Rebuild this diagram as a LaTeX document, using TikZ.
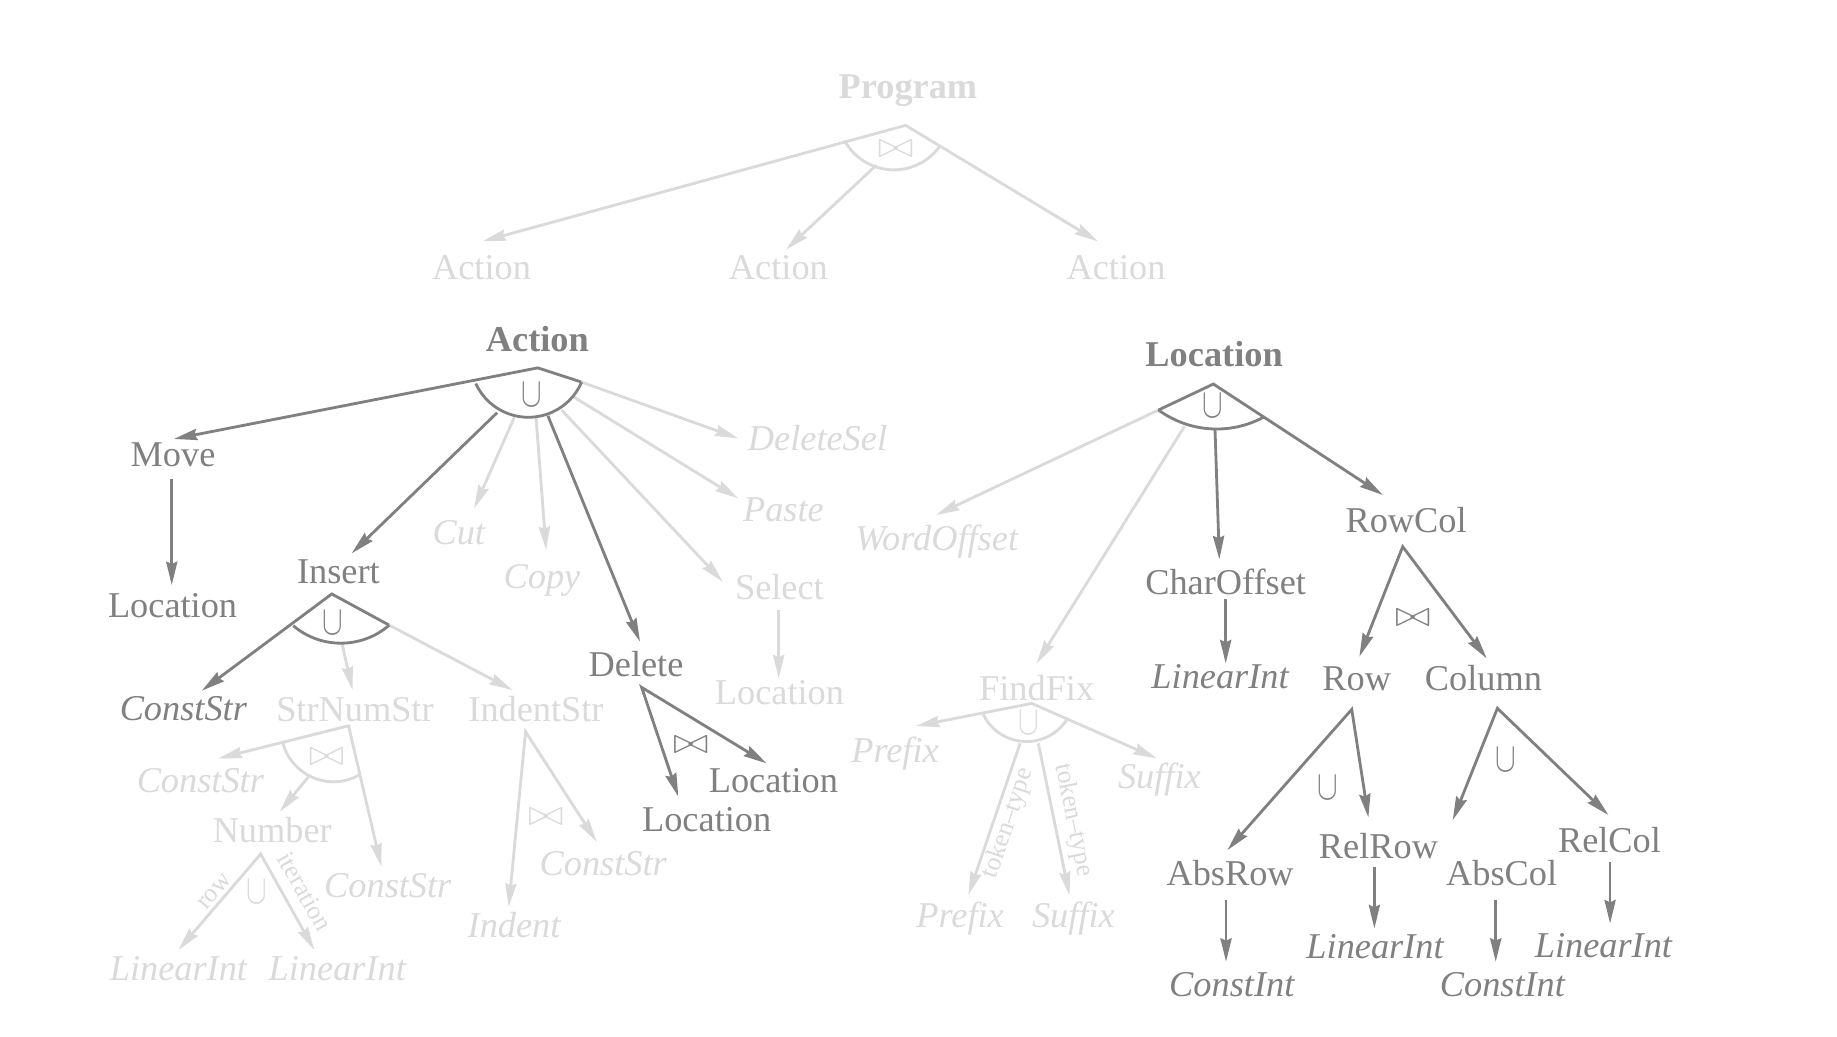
\RequirePackage{fix-cm}
\documentclass[tikz,border=0pt]{standalone}
\usepackage{fontspec}
\setmainfont{Liberation Serif}
\usetikzlibrary{arrows.meta}
\definecolor{dk}{RGB}{128,128,128}
\definecolor{lt}{RGB}{218,218,218}
\tikzset{
  myhead/.tip={Stealth[length=20pt,width=9.5pt,inset=2pt]},
  txt/.style={inner sep=0pt, outer sep=0pt, text height=20.5pt, text depth=0pt, font=\fontsize{31}{37}\selectfont},
  dkn/.style={txt, text=dk},
  ltn/.style={txt, text=lt},
  dki/.style={dkn, font=\fontsize{31}{37}\selectfont\itshape},
  lti/.style={ltn, font=\fontsize{31}{37}\selectfont\itshape},
  dkb/.style={dkn, font=\fontsize{31}{37}\selectfont\bfseries},
  ltb/.style={ltn, font=\fontsize{31}{37}\selectfont\bfseries},
  sml/.style={inner sep=0pt, text=lt, font=\fontsize{22}{26}\selectfont},
  symd/.style={inner sep=0pt, text=dk, font=\fontsize{31}{37}\selectfont},
  syml/.style={inner sep=0pt, text=lt, font=\fontsize{31}{37}\selectfont},
  ed/.style={draw=dk, line width=2.4pt, line join=miter},
  el/.style={draw=lt, line width=2.4pt, line join=miter},
}
\newcommand{\mycup}{\scalebox{0.85}[1.15]{$\cup$}}
\newcommand{\mybow}{\scalebox{1.2}[1]{$\bowtie$}}
\begin{document}
\begin{tikzpicture}[x=1pt,y=-1pt]
\fill[white] (0,0) rectangle (1568,885);
% ================= Program =================
\node[ltb] (prog) at (775,74) {Program};
\coordinate (pA) at (773,107);
\coordinate (pL) at (412,206);
\coordinate (pR) at (937,206);
\coordinate (pMs) at (748,141);
\coordinate (pMt) at (671,213);
\coordinate (pC) at (763,97);
\draw[el, myhead-myhead] (pL) -- (pA) -- (pR);
\draw[el] (pC) ++(151.5:48) arc[start angle=151.5, end angle=35.7, radius=48];
\draw[el, -myhead] (pMs) -- (pMt);
\node[syml] (pSym) at (764.5,127.5) {\mybow};
\node[ltn] (act1) at (411,228) {Action};
\node[ltn] (act2) at (664.4,228) {Action};
\node[ltn] (act3) at (952.6,228.5) {Action};
% ================= Action =================
\node[dkb] (act) at (458.7,290) {Action};
\coordinate (aA) at (459,314);
\coordinate (aR) at (496,326);
\coordinate (aC) at (451,306.8);
\node[dkn] (move) at (147.7,388) {Move};
\coordinate (moveT) at (148.4,374.7);
\node[dkn] (moveLoc) at (147.3,516.4) {Location};
\coordinate (mlS) at (146.6,409);
\coordinate (mlT) at (146.6,499.4);
\node[dkn] (ins) at (288.8,488) {Insert};
\coordinate (insS) at (424.3,352.3);
\coordinate (insT) at (300.2,472.3);
\node[lti] (cut) at (391.6,454.5) {Cut};
\coordinate (cutS) at (439,356.2);
\coordinate (cutT) at (404.7,433.9);
\node[lti] (copy) at (462.6,492.3) {Copy};
\coordinate (copyS) at (457.6,357.1);
\coordinate (copyT) at (466.2,469.5);
\node[dkn] (del) at (542.9,566.8) {Delete};
\coordinate (delS) at (467.7,355);
\coordinate (delT) at (546.3,547.7);
\node[lti] (dsel) at (697.8,374.2) {DeleteSel};
\coordinate (dselT) at (630.2,374.2);
\node[lti] (paste) at (668.7,435.3) {Paste};
\coordinate (pasteS) at (489.4,338.6);
\coordinate (pasteT) at (630.2,425.4);
\node[ltn] (sel) at (665.3,501.3) {Select};
\coordinate (selS) at (479.4,350);
\coordinate (selT) at (616.9,496.5);
\node[ltn] (selLoc) at (665.3,591.3) {Location};
\coordinate (slS) at (664.7,520.7);
\coordinate (slT) at (664.7,579);
% light edges first
\draw[el, -myhead] (aR) -- (dselT);
\draw[el, -myhead] (pasteS) -- (pasteT);
\draw[el, -myhead] (selS) -- (selT);
\draw[el, -myhead] (cutS) -- (cutT);
\draw[el, -myhead] (copyS) -- (copyT);
\draw[el, -myhead] (slS) -- (slT);
% dark edges
\draw[ed, myhead-] (moveT) -- (aA) -- (aR);
\draw[ed] (aC) ++(155.4:49.4) arc[start angle=155.4, end angle=23.1, radius=49.4];
\draw[ed, -myhead] (mlS) -- (mlT);
\draw[ed, -myhead] (insS) -- (insT);
\draw[ed, -myhead] (delS) -- (delT);
\node[symd] (aSym) at (453.7,337) {\mycup};
% Delete subtree
\coordinate (dA) at (547.7,586.7);
\coordinate (dL) at (579,680);
\coordinate (dR) at (654.4,651.6);
\draw[ed, myhead-myhead] (dL) -- (dA) -- (dR);
\node[symd] (dSym) at (589.6,636) {\mybow};
\node[dkn] (dLoc2) at (660.1,665.8) {Location};
\node[dkn] (dLoc1) at (603.2,699.4) {Location};
% ================= Insert =================
\coordinate (iA) at (283.2,507);
\coordinate (iR) at (332,533.5);
\coordinate (iC) at (291,486);
\coordinate (iCsT) at (172.2,589.6);
\coordinate (iSnS) at (292,549.7);
\coordinate (iSnT) at (300.9,589);
\coordinate (iIdT) at (437.4,589);
\draw[el, -myhead] (iSnS) -- (iSnT);
\draw[el, -myhead] (iR) -- (iIdT);
\draw[ed, myhead-] (iCsT) -- (iA) -- (iR);
\draw[ed] (iC) ++(130.2:63) arc[start angle=130.2, end angle=49.2, radius=63];
\node[symd] (iSym) at (283.8,532) {\mycup};
\node[dki] (cstr) at (156.5,604.6) {ConstStr};
\node[ltn] (sns) at (303,606) {StrNumStr};
\node[ltn] (ids) at (457.5,606) {IndentStr};
% StrNumStr subtree
\coordinate (sA) at (297.5,619.5);
\coordinate (sL) at (186.6,647.3);
\coordinate (sR) at (325.5,739.8);
\coordinate (sC) at (284.8,622.3);
\coordinate (sNS) at (263.3,663);
\coordinate (sNT) at (238.8,692.9);
\draw[el, myhead-myhead] (sL) -- (sA) -- (sR);
\draw[el] (sC) ++(164.9:45) arc[start angle=164.9, end angle=60.8, radius=45];
\draw[el, -myhead] (sNS) -- (sNT);
\node[syml] (sSym) at (278.7,646) {\mybow};
\node[lti] (cstr2) at (171,665.8) {ConstStr};
\node[ltn] (num) at (232.4,708.5) {Number};
\node[lti] (cstr3) at (331,755.4) {ConstStr};
% Number subtree
\coordinate (nA) at (222.5,729);
\coordinate (nL) at (152.3,810.9);
\coordinate (nR) at (268.3,810.9);
\draw[el, myhead-myhead] (nL) -- (nA) -- (nR);
\node[syml] (nSym) at (219.3,761) {\mycup};
\node[sml, rotate=49.4] (rowlbl) at (183.3,761) {row};
\node[sml, rotate=-60.8] (itlbl) at (260.1,761) {iteration};
\node[lti] (li1) at (152.3,826.6) {LinearInt};
\node[lti] (li2) at (287.9,826.6) {LinearInt};
% IndentStr subtree
\coordinate (dsA) at (448.6,624.6);
\coordinate (dsL) at (434.2,774);
\coordinate (dsR) at (509.3,718.5);
\draw[el, myhead-myhead] (dsL) -- (dsA) -- (dsR);
\node[syml] (dsSym) at (465.9,697.7) {\mybow};
\node[lti] (cstr4) at (514.9,737) {ConstStr};
\node[lti] (indent) at (438.8,789.6) {Indent};
% ================= Location =================
\node[dkb] (loc) at (1036.3,302.2) {Location};
\coordinate (lA) at (1035.7,327.8);
\coordinate (lL) at (988.8,350);
\coordinate (lC) at (1038.5,282);
\coordinate (lRcT) at (1180.3,422.5);
\coordinate (lWoT) at (799,439.6);
\coordinate (lFfS) at (1011,364);
\coordinate (lFfT) at (884.9,566.2);
\coordinate (lCoS) at (1037.1,367);
\coordinate (lCoT) at (1040.8,477.4);
\draw[el, -myhead] (lL) -- (lWoT);
\draw[el, -myhead] (lFfS) -- (lFfT);
\draw[ed, -myhead] (lL) -- (lA) -- (lRcT);
\draw[ed] (lC) ++(126.2:84.2) arc[start angle=126.2, end angle=61.7, radius=84.2];
\draw[ed, -myhead] (lCoS) -- (lCoT);
\node[symd] (lSym) at (1035.1,346.6) {\mycup};
\node[lti] (woff) at (799.5,459.5) {WordOffset};
\node[dkn] (coff) at (1046.2,497.1) {CharOffset};
\coordinate (coS) at (1046.2,511.6);
\coordinate (coT) at (1046.2,566.2);
\draw[ed, -myhead] (coS) -- (coT);
\node[dki] (li3) at (1041.4,577.6) {LinearInt};
\node[dkn] (rowcol) at (1200.2,444.5) {RowCol};
% FindFix subtree
\node[ltn] (ffix) at (884.9,587.6) {FindFix};
\coordinate (fA) at (880.7,600.4);
\coordinate (fL) at (781.9,619.7);
\coordinate (fR) at (987.3,647.3);
\coordinate (fC) at (876.2,592);
\coordinate (fPs) at (870.7,634.5);
\coordinate (fPt) at (826.6,764);
\coordinate (fSs) at (886.3,634.5);
\coordinate (fSt) at (912.8,764);
\draw[el, myhead-myhead] (fL) -- (fA) -- (fR);
\draw[el] (fC) ++(155.8:41) arc[start angle=155.8, end angle=33.3, radius=41];
\draw[el, -myhead] (fPs) -- (fPt);
\draw[el, -myhead] (fSs) -- (fSt);
\node[syml] (fSym) at (877.8,617) {\mycup};
\node[lti] (pre1) at (764,640.2) {Prefix};
\node[lti] (suf1) at (989.6,662.4) {Suffix};
\node[sml, rotate=71.2] (tt1) at (860.7,702.8) {token--type};
\node[sml, rotate=-78.4] (tt2) at (916.2,700) {token--type};
\node[lti] (pre2) at (819.5,781) {Prefix};
\node[lti] (suf2) at (916.2,781) {Suffix};
% RowCol subtree
\coordinate (rA) at (1197.3,466.6);
\coordinate (rL) at (1160.3,560.5);
\coordinate (rR) at (1269,562);
\draw[ed, myhead-myhead] (rL) -- (rA) -- (rR);
\node[symd] (rSym) at (1205.9,527.8) {\mybow};
\node[dkn] (row) at (1158.1,579) {Row};
\node[dkn] (col) at (1266.2,579) {Column};
\coordinate (roA) at (1153.8,605.5);
\coordinate (roL) at (1047.7,725.6);
\coordinate (roR) at (1168,697.7);
\draw[ed, myhead-myhead] (roL) -- (roA) -- (roR);
\node[symd] (roSym) at (1133.3,672.1) {\mycup};
\coordinate (coA) at (1278.1,604.6);
\coordinate (coL) at (1240,700);
\coordinate (coR) at (1372.9,695.7);
\draw[ed, myhead-myhead] (coL) -- (coA) -- (coR);
\node[symd] (coSym) at (1285.5,648.7) {\mycup};
\node[dkn] (absrow) at (1050,746) {AbsRow};
\node[dkn] (relrow) at (1176.6,722.2) {RelRow};
\node[dkn] (abscol) at (1281.8,746) {AbsCol};
\node[dkn] (relcol) at (1373.8,717.6) {RelCol};
\coordinate (arS) at (1046.5,768.3);
\coordinate (arT) at (1046.5,820.9);
\coordinate (rrS) at (1173.1,739.8);
\coordinate (rrT) at (1173.1,792.4);
\coordinate (acS) at (1276.7,768.3);
\coordinate (acT) at (1276.7,820.9);
\coordinate (rcS) at (1374.3,735.5);
\coordinate (rcT) at (1374.3,788.2);
\draw[ed, -myhead] (arS) -- (arT);
\draw[ed, -myhead] (rrS) -- (rrT);
\draw[ed, -myhead] (acS) -- (acT);
\draw[ed, -myhead] (rcS) -- (rcT);
\node[dki] (ci1) at (1051.4,840) {ConstInt};
\node[dki] (li4) at (1173.7,808.1) {LinearInt};
\node[dki] (ci2) at (1282.4,840) {ConstInt};
\node[dki] (li5) at (1368.6,806.7) {LinearInt};
\end{tikzpicture}
\end{document}
